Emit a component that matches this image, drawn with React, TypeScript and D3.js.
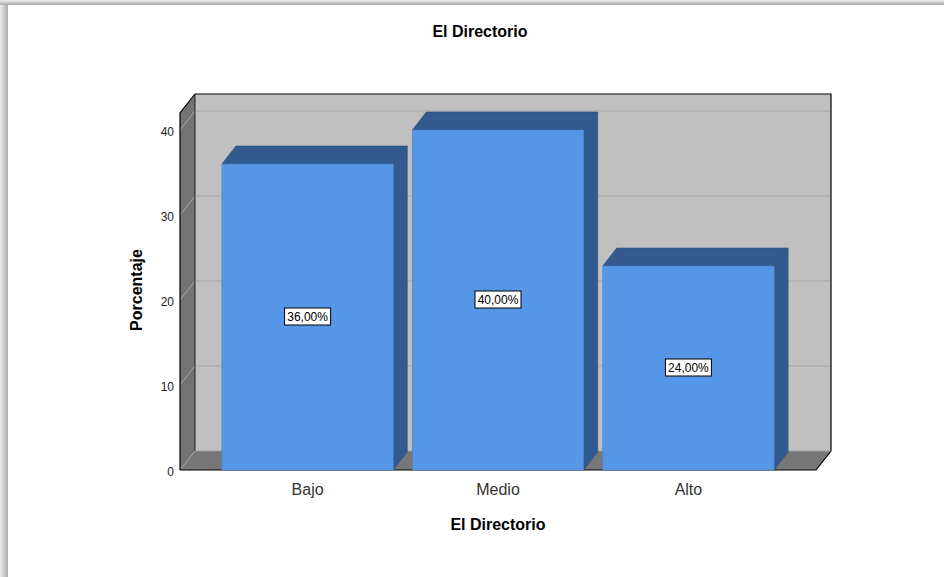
import React from 'react';
import * as d3 from 'd3';

const categories = ['Bajo', 'Medio', 'Alto'];
const values = [36, 40, 24];
const valueLabels = ['36,00%', '40,00%', '24,00%'];
const yTicks = [0, 10, 20, 30, 40];

const W = 944;
const H = 577;
const FONT = 'Arial, "Liberation Sans", sans-serif';

// 3D box geometry
const frontLeft = 180;
const frontRight = 816;
const frontBottom = 470;
const depthX = 15;
const depthY = 19;
const barDX = 14;
const barDY = 18;

const App: React.FC = () => {
  const y = d3.scaleLinear().domain([0, 40]).range([frontBottom, frontBottom - 340]);
  const yTop = 42;
  const x = d3.scaleBand<string>()
    .domain(categories)
    .range([frontLeft, frontRight])
    .paddingInner(0.1)
    .paddingOuter(0.22);

  const pts = (p: [number, number][]) => p.map(d => d.join(',')).join(' ');
  const backL = frontLeft + depthX;
  const backR = frontRight + depthX;
  const backBottom = frontBottom - depthY;

  return (
    <svg width={W} height={H} style={{ position: 'absolute', left: 0, top: 0, fontFamily: FONT }}>
      <defs>
        <linearGradient id="shL" x1="0" x2="1" y1="0" y2="0">
          <stop offset="0" stopColor="#ececec" />
          <stop offset="1" stopColor="#a9a9a9" />
        </linearGradient>
        <linearGradient id="shT" x1="0" x2="0" y1="0" y2="1">
          <stop offset="0" stopColor="#ececec" />
          <stop offset="1" stopColor="#a9a9a9" />
        </linearGradient>
      </defs>
      <rect x={0} y={0} width={W} height={H} fill="#fff" />
      <rect x={0} y={0} width={8} height={H} fill="url(#shL)" />
      <rect x={0} y={0} width={W} height={5} fill="url(#shT)" />
      <rect x={8} y={5} width={W - 8} height={H - 5} fill="#fff" />

      <text x={480} y={37} textAnchor="middle" fontSize={16} fontWeight="bold" fill="#000">El Directorio</text>

      {/* back wall */}
      <rect x={backL} y={y(yTop) - depthY} width={backR - backL} height={backBottom - (y(yTop) - depthY)}
        fill="#c0c0c0" />
      {/* left wall */}
      <polygon points={pts([[frontLeft, y(yTop)], [backL, y(yTop) - depthY], [backL, backBottom], [frontLeft, frontBottom]])}
        fill="#737373" />
      {/* floor */}
      <polygon points={pts([[frontLeft, frontBottom], [frontRight, frontBottom], [backR, backBottom], [backL, backBottom]])}
        fill="#777" />

      {/* gridlines */}
      {yTicks.filter(t => t > 0).map(t => (
        <g key={t}>
          <line x1={backL} x2={backR} y1={y(t) - depthY} y2={y(t) - depthY} stroke="#a6a6a6" strokeWidth={1.2} />
          <line x1={frontLeft} x2={backL} y1={y(t)} y2={y(t) - depthY} stroke="#a6a6a6" strokeWidth={1} />
        </g>
      ))}
      <line x1={frontLeft} x2={backL} y1={frontBottom} y2={backBottom} stroke="#a6a6a6" strokeWidth={1} />

      {/* outlines */}
      <polyline points={pts([[frontLeft, frontBottom], [frontLeft, y(yTop)], [backL, y(yTop) - depthY], [backR, y(yTop) - depthY], [backR, backBottom], [frontRight, frontBottom], [frontLeft, frontBottom]])}
        fill="none" stroke="#000" strokeWidth={1.2} />
      <line x1={backL} x2={backL} y1={y(yTop) - depthY} y2={backBottom} stroke="#222" strokeWidth={1} />
      <line x1={backL} x2={backR} y1={backBottom} y2={backBottom} stroke="#999" strokeWidth={1} />

      {/* bars */}
      {categories.map((c, i) => {
        const x0 = x(c)!;
        const x1 = x0 + x.bandwidth();
        const yt = y(values[i]);
        return (
          <g key={c}>
            <polygon points={pts([[x1, yt], [x1 + barDX, yt - barDY], [x1 + barDX, frontBottom - barDY], [x1, frontBottom]])}
              fill="#335a8f" stroke="#2c4f7e" strokeWidth={0.6} />
            <polygon points={pts([[x0, yt], [x1, yt], [x1 + barDX, yt - barDY], [x0 + barDX, yt - barDY]])}
              fill="#335a8f" stroke="#2c4f7e" strokeWidth={0.6} />
            <rect x={x0} y={yt} width={x1 - x0} height={frontBottom - yt} fill="#5596e6" stroke="#4a84cc" strokeWidth={0.6} />
          </g>
        );
      })}

      {/* value labels */}
      {categories.map((c, i) => {
        const cx = x(c)! + x.bandwidth() / 2;
        const cy = (y(values[i]) + frontBottom) / 2;
        return (
          <g key={c + 'l'}>
            <rect x={cx - 23} y={cy - 9} width={46} height={17} fill="#fff" stroke="#000" strokeWidth={1} />
            <text x={cx} y={cy + 4} textAnchor="middle" fontSize={12} fill="#000">{valueLabels[i]}</text>
          </g>
        );
      })}

      {/* y ticks */}
      {yTicks.map(t => (
        <text key={t} x={174} y={y(t) + 6} textAnchor="end" fontSize={12} fill="#222">{t}</text>
      ))}

      {/* category labels */}
      {categories.map(c => (
        <text key={c + 'c'} x={x(c)! + x.bandwidth() / 2} y={495} textAnchor="middle" fontSize={16} fill="#333">{c}</text>
      ))}

      <text x={498} y={530} textAnchor="middle" fontSize={16} fontWeight="bold" fill="#000">El Directorio</text>
      <text transform="translate(142,290) rotate(-90)" textAnchor="middle" fontSize={16} fontWeight="bold" fill="#000">Porcentaje</text>
    </svg>
  );
};

export default App;
